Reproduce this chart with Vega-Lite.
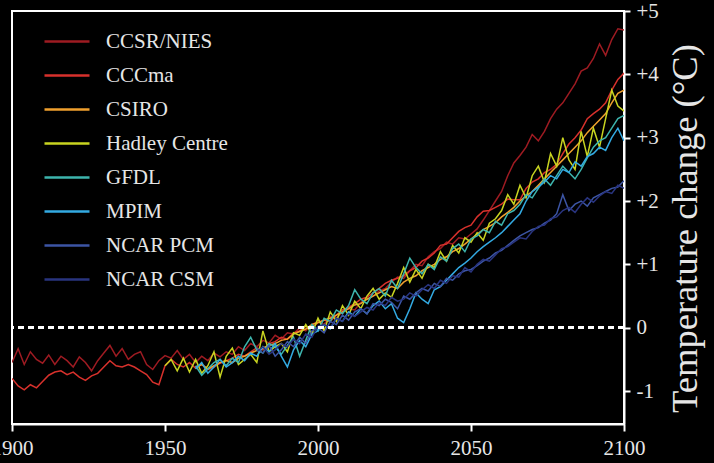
{
"$schema":"https://vega.github.io/schema/vega-lite/v6.json",
"width":612,"height":413,
"autosize":{"type":"none"},
"padding":{"left":12,"top":11,"right":90,"bottom":39},
"background":"#000000",
"config":{"view":{"stroke":"#ffffff","strokeWidth":2},"font":"Liberation Serif"},
"datasets":{"d":[
{"m":"CCSR/NIES","y":1900,"t":-0.55},{"m":"CCSR/NIES","y":1902,"t":-0.33},{"m":"CCSR/NIES","y":1904,"t":-0.58},{"m":"CCSR/NIES","y":1906,"t":-0.38},{"m":"CCSR/NIES","y":1908,"t":-0.5},{"m":"CCSR/NIES","y":1910,"t":-0.56},{"m":"CCSR/NIES","y":1912,"t":-0.43},{"m":"CCSR/NIES","y":1914,"t":-0.58},{"m":"CCSR/NIES","y":1916,"t":-0.45},{"m":"CCSR/NIES","y":1918,"t":-0.52},{"m":"CCSR/NIES","y":1920,"t":-0.62},{"m":"CCSR/NIES","y":1922,"t":-0.46},{"m":"CCSR/NIES","y":1924,"t":-0.55},{"m":"CCSR/NIES","y":1926,"t":-0.68},{"m":"CCSR/NIES","y":1928,"t":-0.52},{"m":"CCSR/NIES","y":1930,"t":-0.4},{"m":"CCSR/NIES","y":1932,"t":-0.28},{"m":"CCSR/NIES","y":1934,"t":-0.45},{"m":"CCSR/NIES","y":1936,"t":-0.33},{"m":"CCSR/NIES","y":1938,"t":-0.5},{"m":"CCSR/NIES","y":1940,"t":-0.42},{"m":"CCSR/NIES","y":1942,"t":-0.38},{"m":"CCSR/NIES","y":1944,"t":-0.58},{"m":"CCSR/NIES","y":1946,"t":-0.66},{"m":"CCSR/NIES","y":1948,"t":-0.52},{"m":"CCSR/NIES","y":1950,"t":-0.44},{"m":"CCSR/NIES","y":1952,"t":-0.48},{"m":"CCSR/NIES","y":1954,"t":-0.36},{"m":"CCSR/NIES","y":1956,"t":-0.5},{"m":"CCSR/NIES","y":1958,"t":-0.42},{"m":"CCSR/NIES","y":1960,"t":-0.55},{"m":"CCSR/NIES","y":1962,"t":-0.45},{"m":"CCSR/NIES","y":1964,"t":-0.52},{"m":"CCSR/NIES","y":1966,"t":-0.4},{"m":"CCSR/NIES","y":1968,"t":-0.46},{"m":"CCSR/NIES","y":1970,"t":-0.38},{"m":"CCSR/NIES","y":1972,"t":-0.42},{"m":"CCSR/NIES","y":1974,"t":-0.3},{"m":"CCSR/NIES","y":1976,"t":-0.36},{"m":"CCSR/NIES","y":1978,"t":-0.25},{"m":"CCSR/NIES","y":1980,"t":-0.3},{"m":"CCSR/NIES","y":1982,"t":-0.2},{"m":"CCSR/NIES","y":1984,"t":-0.24},{"m":"CCSR/NIES","y":1986,"t":-0.12},{"m":"CCSR/NIES","y":1988,"t":-0.18},{"m":"CCSR/NIES","y":1990,"t":-0.08},{"m":"CCSR/NIES","y":1992,"t":-0.1},{"m":"CCSR/NIES","y":1994,"t":0.0},{"m":"CCSR/NIES","y":1996,"t":-0.05},{"m":"CCSR/NIES","y":1998,"t":0.05},{"m":"CCSR/NIES","y":2000,"t":0.1},{"m":"CCSR/NIES","y":2002,"t":0.05},{"m":"CCSR/NIES","y":2004,"t":0.18},{"m":"CCSR/NIES","y":2006,"t":0.15},{"m":"CCSR/NIES","y":2008,"t":0.25},{"m":"CCSR/NIES","y":2010,"t":0.3},{"m":"CCSR/NIES","y":2012,"t":0.28},{"m":"CCSR/NIES","y":2014,"t":0.4},{"m":"CCSR/NIES","y":2016,"t":0.45},{"m":"CCSR/NIES","y":2018,"t":0.5},{"m":"CCSR/NIES","y":2020,"t":0.58},{"m":"CCSR/NIES","y":2022,"t":0.62},{"m":"CCSR/NIES","y":2024,"t":0.72},{"m":"CCSR/NIES","y":2026,"t":0.8},{"m":"CCSR/NIES","y":2028,"t":0.78},{"m":"CCSR/NIES","y":2030,"t":0.9},{"m":"CCSR/NIES","y":2032,"t":1.0},{"m":"CCSR/NIES","y":2034,"t":0.98},{"m":"CCSR/NIES","y":2036,"t":1.12},{"m":"CCSR/NIES","y":2038,"t":1.2},{"m":"CCSR/NIES","y":2040,"t":1.25},{"m":"CCSR/NIES","y":2042,"t":1.35},{"m":"CCSR/NIES","y":2044,"t":1.32},{"m":"CCSR/NIES","y":2046,"t":1.42},{"m":"CCSR/NIES","y":2048,"t":1.4},{"m":"CCSR/NIES","y":2050,"t":1.48},{"m":"CCSR/NIES","y":2052,"t":1.56},{"m":"CCSR/NIES","y":2054,"t":1.7},{"m":"CCSR/NIES","y":2056,"t":1.85},{"m":"CCSR/NIES","y":2058,"t":2.0},{"m":"CCSR/NIES","y":2060,"t":2.15},{"m":"CCSR/NIES","y":2062,"t":2.4},{"m":"CCSR/NIES","y":2064,"t":2.6},{"m":"CCSR/NIES","y":2066,"t":2.72},{"m":"CCSR/NIES","y":2068,"t":2.85},{"m":"CCSR/NIES","y":2070,"t":3.05},{"m":"CCSR/NIES","y":2072,"t":2.95},{"m":"CCSR/NIES","y":2074,"t":3.1},{"m":"CCSR/NIES","y":2076,"t":3.3},{"m":"CCSR/NIES","y":2078,"t":3.45},{"m":"CCSR/NIES","y":2080,"t":3.55},{"m":"CCSR/NIES","y":2082,"t":3.7},{"m":"CCSR/NIES","y":2084,"t":3.85},{"m":"CCSR/NIES","y":2086,"t":4.05},{"m":"CCSR/NIES","y":2088,"t":4.1},{"m":"CCSR/NIES","y":2090,"t":4.25},{"m":"CCSR/NIES","y":2092,"t":4.48},{"m":"CCSR/NIES","y":2094,"t":4.3},{"m":"CCSR/NIES","y":2096,"t":4.55},{"m":"CCSR/NIES","y":2098,"t":4.72},{"m":"CCSR/NIES","y":2100,"t":4.7},
{"m":"CCCma","y":1900,"t":-0.8},{"m":"CCCma","y":1902,"t":-0.92},{"m":"CCCma","y":1904,"t":-0.98},{"m":"CCCma","y":1906,"t":-0.9},{"m":"CCCma","y":1908,"t":-0.95},{"m":"CCCma","y":1910,"t":-0.85},{"m":"CCCma","y":1912,"t":-0.75},{"m":"CCCma","y":1914,"t":-0.7},{"m":"CCCma","y":1916,"t":-0.68},{"m":"CCCma","y":1918,"t":-0.74},{"m":"CCCma","y":1920,"t":-0.7},{"m":"CCCma","y":1922,"t":-0.78},{"m":"CCCma","y":1924,"t":-0.83},{"m":"CCCma","y":1926,"t":-0.76},{"m":"CCCma","y":1928,"t":-0.72},{"m":"CCCma","y":1930,"t":-0.62},{"m":"CCCma","y":1932,"t":-0.52},{"m":"CCCma","y":1934,"t":-0.6},{"m":"CCCma","y":1936,"t":-0.62},{"m":"CCCma","y":1938,"t":-0.58},{"m":"CCCma","y":1940,"t":-0.62},{"m":"CCCma","y":1942,"t":-0.68},{"m":"CCCma","y":1944,"t":-0.74},{"m":"CCCma","y":1946,"t":-0.86},{"m":"CCCma","y":1948,"t":-0.9},{"m":"CCCma","y":1950,"t":-0.6},{"m":"CCCma","y":1952,"t":-0.5},{"m":"CCCma","y":1954,"t":-0.58},{"m":"CCCma","y":1956,"t":-0.62},{"m":"CCCma","y":1958,"t":-0.55},{"m":"CCCma","y":1960,"t":-0.64},{"m":"CCCma","y":1962,"t":-0.58},{"m":"CCCma","y":1964,"t":-0.66},{"m":"CCCma","y":1966,"t":-0.62},{"m":"CCCma","y":1968,"t":-0.56},{"m":"CCCma","y":1970,"t":-0.52},{"m":"CCCma","y":1972,"t":-0.48},{"m":"CCCma","y":1974,"t":-0.42},{"m":"CCCma","y":1976,"t":-0.45},{"m":"CCCma","y":1978,"t":-0.38},{"m":"CCCma","y":1980,"t":-0.32},{"m":"CCCma","y":1982,"t":-0.35},{"m":"CCCma","y":1984,"t":-0.25},{"m":"CCCma","y":1986,"t":-0.22},{"m":"CCCma","y":1988,"t":-0.15},{"m":"CCCma","y":1990,"t":-0.18},{"m":"CCCma","y":1992,"t":-0.08},{"m":"CCCma","y":1994,"t":-0.05},{"m":"CCCma","y":1996,"t":0.02},{"m":"CCCma","y":1998,"t":0.0},{"m":"CCCma","y":2000,"t":0.08},{"m":"CCCma","y":2002,"t":0.12},{"m":"CCCma","y":2004,"t":0.1},{"m":"CCCma","y":2006,"t":0.2},{"m":"CCCma","y":2008,"t":0.28},{"m":"CCCma","y":2010,"t":0.32},{"m":"CCCma","y":2012,"t":0.38},{"m":"CCCma","y":2014,"t":0.45},{"m":"CCCma","y":2016,"t":0.48},{"m":"CCCma","y":2018,"t":0.55},{"m":"CCCma","y":2020,"t":0.62},{"m":"CCCma","y":2022,"t":0.7},{"m":"CCCma","y":2024,"t":0.75},{"m":"CCCma","y":2026,"t":0.78},{"m":"CCCma","y":2028,"t":0.82},{"m":"CCCma","y":2030,"t":0.9},{"m":"CCCma","y":2032,"t":0.95},{"m":"CCCma","y":2034,"t":1.05},{"m":"CCCma","y":2036,"t":1.1},{"m":"CCCma","y":2038,"t":1.18},{"m":"CCCma","y":2040,"t":1.3},{"m":"CCCma","y":2042,"t":1.32},{"m":"CCCma","y":2044,"t":1.42},{"m":"CCCma","y":2046,"t":1.52},{"m":"CCCma","y":2048,"t":1.58},{"m":"CCCma","y":2050,"t":1.62},{"m":"CCCma","y":2052,"t":1.75},{"m":"CCCma","y":2054,"t":1.84},{"m":"CCCma","y":2056,"t":1.85},{"m":"CCCma","y":2058,"t":1.9},{"m":"CCCma","y":2060,"t":1.95},{"m":"CCCma","y":2062,"t":2.03},{"m":"CCCma","y":2064,"t":2.02},{"m":"CCCma","y":2066,"t":2.02},{"m":"CCCma","y":2068,"t":2.2},{"m":"CCCma","y":2070,"t":2.3},{"m":"CCCma","y":2072,"t":2.35},{"m":"CCCma","y":2074,"t":2.45},{"m":"CCCma","y":2076,"t":2.5},{"m":"CCCma","y":2078,"t":2.58},{"m":"CCCma","y":2080,"t":2.75},{"m":"CCCma","y":2082,"t":2.9},{"m":"CCCma","y":2084,"t":3.0},{"m":"CCCma","y":2086,"t":3.12},{"m":"CCCma","y":2088,"t":3.3},{"m":"CCCma","y":2090,"t":3.38},{"m":"CCCma","y":2092,"t":3.45},{"m":"CCCma","y":2094,"t":3.55},{"m":"CCCma","y":2096,"t":3.75},{"m":"CCCma","y":2098,"t":3.92},{"m":"CCCma","y":2100,"t":4.02},
{"m":"CSIRO","y":1960,"t":-0.62},{"m":"CSIRO","y":1962,"t":-0.58},{"m":"CSIRO","y":1964,"t":-0.65},{"m":"CSIRO","y":1966,"t":-0.6},{"m":"CSIRO","y":1968,"t":-0.55},{"m":"CSIRO","y":1970,"t":-0.52},{"m":"CSIRO","y":1972,"t":-0.55},{"m":"CSIRO","y":1974,"t":-0.48},{"m":"CSIRO","y":1976,"t":-0.45},{"m":"CSIRO","y":1978,"t":-0.4},{"m":"CSIRO","y":1980,"t":-0.36},{"m":"CSIRO","y":1982,"t":-0.32},{"m":"CSIRO","y":1984,"t":-0.28},{"m":"CSIRO","y":1986,"t":-0.25},{"m":"CSIRO","y":1988,"t":-0.2},{"m":"CSIRO","y":1990,"t":-0.18},{"m":"CSIRO","y":1992,"t":-0.1},{"m":"CSIRO","y":1994,"t":-0.06},{"m":"CSIRO","y":1996,"t":-0.02},{"m":"CSIRO","y":1998,"t":0.05},{"m":"CSIRO","y":2000,"t":0.08},{"m":"CSIRO","y":2002,"t":0.12},{"m":"CSIRO","y":2004,"t":0.15},{"m":"CSIRO","y":2006,"t":0.2},{"m":"CSIRO","y":2008,"t":0.25},{"m":"CSIRO","y":2010,"t":0.3},{"m":"CSIRO","y":2012,"t":0.36},{"m":"CSIRO","y":2014,"t":0.38},{"m":"CSIRO","y":2016,"t":0.45},{"m":"CSIRO","y":2018,"t":0.5},{"m":"CSIRO","y":2020,"t":0.55},{"m":"CSIRO","y":2022,"t":0.6},{"m":"CSIRO","y":2024,"t":0.65},{"m":"CSIRO","y":2026,"t":0.62},{"m":"CSIRO","y":2028,"t":0.72},{"m":"CSIRO","y":2030,"t":0.78},{"m":"CSIRO","y":2032,"t":0.82},{"m":"CSIRO","y":2034,"t":0.9},{"m":"CSIRO","y":2036,"t":0.95},{"m":"CSIRO","y":2038,"t":1.0},{"m":"CSIRO","y":2040,"t":1.08},{"m":"CSIRO","y":2042,"t":1.12},{"m":"CSIRO","y":2044,"t":1.2},{"m":"CSIRO","y":2046,"t":1.25},{"m":"CSIRO","y":2048,"t":1.32},{"m":"CSIRO","y":2050,"t":1.4},{"m":"CSIRO","y":2052,"t":1.48},{"m":"CSIRO","y":2054,"t":1.55},{"m":"CSIRO","y":2056,"t":1.6},{"m":"CSIRO","y":2058,"t":1.66},{"m":"CSIRO","y":2060,"t":1.75},{"m":"CSIRO","y":2062,"t":1.82},{"m":"CSIRO","y":2064,"t":1.9},{"m":"CSIRO","y":2066,"t":2.0},{"m":"CSIRO","y":2068,"t":2.08},{"m":"CSIRO","y":2070,"t":2.15},{"m":"CSIRO","y":2072,"t":2.25},{"m":"CSIRO","y":2074,"t":2.35},{"m":"CSIRO","y":2076,"t":2.45},{"m":"CSIRO","y":2078,"t":2.55},{"m":"CSIRO","y":2080,"t":2.65},{"m":"CSIRO","y":2082,"t":2.75},{"m":"CSIRO","y":2084,"t":2.85},{"m":"CSIRO","y":2086,"t":2.95},{"m":"CSIRO","y":2088,"t":3.08},{"m":"CSIRO","y":2090,"t":3.18},{"m":"CSIRO","y":2092,"t":3.28},{"m":"CSIRO","y":2094,"t":3.38},{"m":"CSIRO","y":2096,"t":3.55},{"m":"CSIRO","y":2098,"t":3.7},{"m":"CSIRO","y":2100,"t":3.75},
{"m":"Hadley Centre","y":1950,"t":-0.6},{"m":"Hadley Centre","y":1952,"t":-0.5},{"m":"Hadley Centre","y":1954,"t":-0.68},{"m":"Hadley Centre","y":1956,"t":-0.48},{"m":"Hadley Centre","y":1958,"t":-0.7},{"m":"Hadley Centre","y":1960,"t":-0.5},{"m":"Hadley Centre","y":1962,"t":-0.72},{"m":"Hadley Centre","y":1964,"t":-0.6},{"m":"Hadley Centre","y":1966,"t":-0.38},{"m":"Hadley Centre","y":1968,"t":-0.78},{"m":"Hadley Centre","y":1970,"t":-0.45},{"m":"Hadley Centre","y":1972,"t":-0.32},{"m":"Hadley Centre","y":1974,"t":-0.58},{"m":"Hadley Centre","y":1976,"t":-0.5},{"m":"Hadley Centre","y":1978,"t":-0.42},{"m":"Hadley Centre","y":1980,"t":-0.55},{"m":"Hadley Centre","y":1982,"t":-0.05},{"m":"Hadley Centre","y":1984,"t":-0.38},{"m":"Hadley Centre","y":1986,"t":-0.3},{"m":"Hadley Centre","y":1988,"t":-0.25},{"m":"Hadley Centre","y":1990,"t":-0.38},{"m":"Hadley Centre","y":1992,"t":-0.08},{"m":"Hadley Centre","y":1994,"t":-0.12},{"m":"Hadley Centre","y":1996,"t":0.05},{"m":"Hadley Centre","y":1998,"t":-0.1},{"m":"Hadley Centre","y":2000,"t":0.15},{"m":"Hadley Centre","y":2002,"t":-0.05},{"m":"Hadley Centre","y":2004,"t":0.25},{"m":"Hadley Centre","y":2006,"t":0.1},{"m":"Hadley Centre","y":2008,"t":0.35},{"m":"Hadley Centre","y":2010,"t":0.2},{"m":"Hadley Centre","y":2012,"t":0.42},{"m":"Hadley Centre","y":2014,"t":0.3},{"m":"Hadley Centre","y":2016,"t":0.5},{"m":"Hadley Centre","y":2018,"t":0.62},{"m":"Hadley Centre","y":2020,"t":0.45},{"m":"Hadley Centre","y":2022,"t":0.55},{"m":"Hadley Centre","y":2024,"t":0.48},{"m":"Hadley Centre","y":2026,"t":0.7},{"m":"Hadley Centre","y":2028,"t":0.95},{"m":"Hadley Centre","y":2030,"t":0.72},{"m":"Hadley Centre","y":2032,"t":0.92},{"m":"Hadley Centre","y":2034,"t":0.78},{"m":"Hadley Centre","y":2036,"t":1.0},{"m":"Hadley Centre","y":2038,"t":0.95},{"m":"Hadley Centre","y":2040,"t":1.2},{"m":"Hadley Centre","y":2042,"t":1.05},{"m":"Hadley Centre","y":2044,"t":1.3},{"m":"Hadley Centre","y":2046,"t":1.18},{"m":"Hadley Centre","y":2048,"t":1.42},{"m":"Hadley Centre","y":2050,"t":1.35},{"m":"Hadley Centre","y":2052,"t":1.5},{"m":"Hadley Centre","y":2054,"t":1.38},{"m":"Hadley Centre","y":2056,"t":1.65},{"m":"Hadley Centre","y":2058,"t":1.72},{"m":"Hadley Centre","y":2060,"t":1.85},{"m":"Hadley Centre","y":2062,"t":2.1},{"m":"Hadley Centre","y":2064,"t":1.95},{"m":"Hadley Centre","y":2066,"t":2.25},{"m":"Hadley Centre","y":2068,"t":2.05},{"m":"Hadley Centre","y":2070,"t":2.4},{"m":"Hadley Centre","y":2072,"t":2.55},{"m":"Hadley Centre","y":2074,"t":2.3},{"m":"Hadley Centre","y":2076,"t":2.75},{"m":"Hadley Centre","y":2078,"t":2.55},{"m":"Hadley Centre","y":2080,"t":3.0},{"m":"Hadley Centre","y":2082,"t":2.65},{"m":"Hadley Centre","y":2084,"t":2.5},{"m":"Hadley Centre","y":2086,"t":3.1},{"m":"Hadley Centre","y":2088,"t":2.7},{"m":"Hadley Centre","y":2090,"t":3.15},{"m":"Hadley Centre","y":2092,"t":2.85},{"m":"Hadley Centre","y":2094,"t":3.3},{"m":"Hadley Centre","y":2096,"t":3.75},{"m":"Hadley Centre","y":2098,"t":3.5},{"m":"Hadley Centre","y":2100,"t":3.42},
{"m":"GFDL","y":1960,"t":-0.6},{"m":"GFDL","y":1962,"t":-0.75},{"m":"GFDL","y":1964,"t":-0.65},{"m":"GFDL","y":1966,"t":-0.55},{"m":"GFDL","y":1968,"t":-0.5},{"m":"GFDL","y":1970,"t":-0.6},{"m":"GFDL","y":1972,"t":-0.48},{"m":"GFDL","y":1974,"t":-0.55},{"m":"GFDL","y":1976,"t":-0.3},{"m":"GFDL","y":1978,"t":-0.15},{"m":"GFDL","y":1980,"t":-0.35},{"m":"GFDL","y":1982,"t":-0.4},{"m":"GFDL","y":1984,"t":-0.25},{"m":"GFDL","y":1986,"t":-0.3},{"m":"GFDL","y":1988,"t":-0.42},{"m":"GFDL","y":1990,"t":-0.28},{"m":"GFDL","y":1992,"t":-0.15},{"m":"GFDL","y":1994,"t":-0.45},{"m":"GFDL","y":1996,"t":-0.2},{"m":"GFDL","y":1998,"t":0.05},{"m":"GFDL","y":2000,"t":-0.05},{"m":"GFDL","y":2002,"t":0.15},{"m":"GFDL","y":2004,"t":0.1},{"m":"GFDL","y":2006,"t":0.28},{"m":"GFDL","y":2008,"t":0.22},{"m":"GFDL","y":2010,"t":0.35},{"m":"GFDL","y":2012,"t":0.6},{"m":"GFDL","y":2014,"t":0.45},{"m":"GFDL","y":2016,"t":0.38},{"m":"GFDL","y":2018,"t":0.55},{"m":"GFDL","y":2020,"t":0.62},{"m":"GFDL","y":2022,"t":0.5},{"m":"GFDL","y":2024,"t":0.75},{"m":"GFDL","y":2026,"t":0.62},{"m":"GFDL","y":2028,"t":0.85},{"m":"GFDL","y":2030,"t":1.1},{"m":"GFDL","y":2032,"t":0.95},{"m":"GFDL","y":2034,"t":0.85},{"m":"GFDL","y":2036,"t":1.0},{"m":"GFDL","y":2038,"t":0.92},{"m":"GFDL","y":2040,"t":1.12},{"m":"GFDL","y":2042,"t":1.05},{"m":"GFDL","y":2044,"t":1.25},{"m":"GFDL","y":2046,"t":1.32},{"m":"GFDL","y":2048,"t":1.2},{"m":"GFDL","y":2050,"t":1.4},{"m":"GFDL","y":2052,"t":1.45},{"m":"GFDL","y":2054,"t":1.55},{"m":"GFDL","y":2056,"t":1.5},{"m":"GFDL","y":2058,"t":1.68},{"m":"GFDL","y":2060,"t":1.62},{"m":"GFDL","y":2062,"t":1.8},{"m":"GFDL","y":2064,"t":1.85},{"m":"GFDL","y":2066,"t":1.95},{"m":"GFDL","y":2068,"t":2.1},{"m":"GFDL","y":2070,"t":2.05},{"m":"GFDL","y":2072,"t":2.2},{"m":"GFDL","y":2074,"t":2.35},{"m":"GFDL","y":2076,"t":2.25},{"m":"GFDL","y":2078,"t":2.4},{"m":"GFDL","y":2080,"t":2.55},{"m":"GFDL","y":2082,"t":2.45},{"m":"GFDL","y":2084,"t":2.35},{"m":"GFDL","y":2086,"t":2.5},{"m":"GFDL","y":2088,"t":2.68},{"m":"GFDL","y":2090,"t":2.85},{"m":"GFDL","y":2092,"t":2.95},{"m":"GFDL","y":2094,"t":3.0},{"m":"GFDL","y":2096,"t":3.15},{"m":"GFDL","y":2098,"t":3.3},{"m":"GFDL","y":2100,"t":3.35},
{"m":"MPIM","y":1960,"t":-0.65},{"m":"MPIM","y":1962,"t":-0.55},{"m":"MPIM","y":1964,"t":-0.72},{"m":"MPIM","y":1966,"t":-0.62},{"m":"MPIM","y":1968,"t":-0.5},{"m":"MPIM","y":1970,"t":-0.62},{"m":"MPIM","y":1972,"t":-0.55},{"m":"MPIM","y":1974,"t":-0.45},{"m":"MPIM","y":1976,"t":-0.52},{"m":"MPIM","y":1978,"t":-0.4},{"m":"MPIM","y":1980,"t":-0.45},{"m":"MPIM","y":1982,"t":-0.3},{"m":"MPIM","y":1984,"t":-0.38},{"m":"MPIM","y":1986,"t":-0.25},{"m":"MPIM","y":1988,"t":-0.45},{"m":"MPIM","y":1990,"t":-0.62},{"m":"MPIM","y":1992,"t":-0.35},{"m":"MPIM","y":1994,"t":-0.2},{"m":"MPIM","y":1996,"t":-0.3},{"m":"MPIM","y":1998,"t":-0.1},{"m":"MPIM","y":2000,"t":-0.05},{"m":"MPIM","y":2002,"t":0.05},{"m":"MPIM","y":2004,"t":-0.02},{"m":"MPIM","y":2006,"t":0.15},{"m":"MPIM","y":2008,"t":0.1},{"m":"MPIM","y":2010,"t":0.25},{"m":"MPIM","y":2012,"t":0.18},{"m":"MPIM","y":2014,"t":0.3},{"m":"MPIM","y":2016,"t":0.22},{"m":"MPIM","y":2018,"t":0.35},{"m":"MPIM","y":2020,"t":0.42},{"m":"MPIM","y":2022,"t":0.3},{"m":"MPIM","y":2024,"t":0.38},{"m":"MPIM","y":2026,"t":0.15},{"m":"MPIM","y":2028,"t":0.08},{"m":"MPIM","y":2030,"t":0.3},{"m":"MPIM","y":2032,"t":0.55},{"m":"MPIM","y":2034,"t":0.45},{"m":"MPIM","y":2036,"t":0.38},{"m":"MPIM","y":2038,"t":0.6},{"m":"MPIM","y":2040,"t":0.65},{"m":"MPIM","y":2042,"t":0.75},{"m":"MPIM","y":2044,"t":0.85},{"m":"MPIM","y":2046,"t":0.95},{"m":"MPIM","y":2048,"t":1.02},{"m":"MPIM","y":2050,"t":1.1},{"m":"MPIM","y":2052,"t":1.2},{"m":"MPIM","y":2054,"t":1.28},{"m":"MPIM","y":2056,"t":1.35},{"m":"MPIM","y":2058,"t":1.42},{"m":"MPIM","y":2060,"t":1.5},{"m":"MPIM","y":2062,"t":1.6},{"m":"MPIM","y":2064,"t":1.7},{"m":"MPIM","y":2066,"t":1.8},{"m":"MPIM","y":2068,"t":2.0},{"m":"MPIM","y":2070,"t":2.15},{"m":"MPIM","y":2072,"t":2.22},{"m":"MPIM","y":2074,"t":2.3},{"m":"MPIM","y":2076,"t":2.4},{"m":"MPIM","y":2078,"t":2.35},{"m":"MPIM","y":2080,"t":2.5},{"m":"MPIM","y":2082,"t":2.45},{"m":"MPIM","y":2084,"t":2.62},{"m":"MPIM","y":2086,"t":2.55},{"m":"MPIM","y":2088,"t":2.7},{"m":"MPIM","y":2090,"t":2.75},{"m":"MPIM","y":2092,"t":2.85},{"m":"MPIM","y":2094,"t":2.8},{"m":"MPIM","y":2096,"t":3.0},{"m":"MPIM","y":2098,"t":3.15},{"m":"MPIM","y":2100,"t":2.95},
{"m":"NCAR PCM","y":1980,"t":-0.32},{"m":"NCAR PCM","y":1982,"t":-0.4},{"m":"NCAR PCM","y":1984,"t":-0.28},{"m":"NCAR PCM","y":1986,"t":-0.45},{"m":"NCAR PCM","y":1988,"t":-0.35},{"m":"NCAR PCM","y":1990,"t":-0.22},{"m":"NCAR PCM","y":1992,"t":-0.3},{"m":"NCAR PCM","y":1994,"t":-0.15},{"m":"NCAR PCM","y":1996,"t":-0.25},{"m":"NCAR PCM","y":1998,"t":-0.05},{"m":"NCAR PCM","y":2000,"t":0.0},{"m":"NCAR PCM","y":2002,"t":-0.08},{"m":"NCAR PCM","y":2004,"t":0.1},{"m":"NCAR PCM","y":2006,"t":0.05},{"m":"NCAR PCM","y":2008,"t":0.2},{"m":"NCAR PCM","y":2010,"t":0.12},{"m":"NCAR PCM","y":2012,"t":0.25},{"m":"NCAR PCM","y":2014,"t":0.3},{"m":"NCAR PCM","y":2016,"t":0.22},{"m":"NCAR PCM","y":2018,"t":0.38},{"m":"NCAR PCM","y":2020,"t":0.35},{"m":"NCAR PCM","y":2022,"t":0.45},{"m":"NCAR PCM","y":2024,"t":0.4},{"m":"NCAR PCM","y":2026,"t":0.3},{"m":"NCAR PCM","y":2028,"t":0.5},{"m":"NCAR PCM","y":2030,"t":0.45},{"m":"NCAR PCM","y":2032,"t":0.55},{"m":"NCAR PCM","y":2034,"t":0.62},{"m":"NCAR PCM","y":2036,"t":0.58},{"m":"NCAR PCM","y":2038,"t":0.7},{"m":"NCAR PCM","y":2040,"t":0.65},{"m":"NCAR PCM","y":2042,"t":0.78},{"m":"NCAR PCM","y":2044,"t":0.75},{"m":"NCAR PCM","y":2046,"t":0.85},{"m":"NCAR PCM","y":2048,"t":0.9},{"m":"NCAR PCM","y":2050,"t":0.92},{"m":"NCAR PCM","y":2052,"t":0.98},{"m":"NCAR PCM","y":2054,"t":1.05},{"m":"NCAR PCM","y":2056,"t":1.1},{"m":"NCAR PCM","y":2058,"t":1.18},{"m":"NCAR PCM","y":2060,"t":1.22},{"m":"NCAR PCM","y":2062,"t":1.3},{"m":"NCAR PCM","y":2064,"t":1.38},{"m":"NCAR PCM","y":2066,"t":1.45},{"m":"NCAR PCM","y":2068,"t":1.5},{"m":"NCAR PCM","y":2070,"t":1.55},{"m":"NCAR PCM","y":2072,"t":1.58},{"m":"NCAR PCM","y":2074,"t":1.65},{"m":"NCAR PCM","y":2076,"t":1.7},{"m":"NCAR PCM","y":2078,"t":1.8},{"m":"NCAR PCM","y":2080,"t":2.1},{"m":"NCAR PCM","y":2082,"t":1.85},{"m":"NCAR PCM","y":2084,"t":1.95},{"m":"NCAR PCM","y":2086,"t":2.0},{"m":"NCAR PCM","y":2088,"t":1.92},{"m":"NCAR PCM","y":2090,"t":2.05},{"m":"NCAR PCM","y":2092,"t":2.1},{"m":"NCAR PCM","y":2094,"t":2.15},{"m":"NCAR PCM","y":2096,"t":2.2},{"m":"NCAR PCM","y":2098,"t":2.22},{"m":"NCAR PCM","y":2100,"t":2.32},
{"m":"NCAR CSM","y":1980,"t":-0.38},{"m":"NCAR CSM","y":1982,"t":-0.3},{"m":"NCAR CSM","y":1984,"t":-0.42},{"m":"NCAR CSM","y":1986,"t":-0.35},{"m":"NCAR CSM","y":1988,"t":-0.25},{"m":"NCAR CSM","y":1990,"t":-0.3},{"m":"NCAR CSM","y":1992,"t":-0.18},{"m":"NCAR CSM","y":1994,"t":-0.25},{"m":"NCAR CSM","y":1996,"t":-0.1},{"m":"NCAR CSM","y":1998,"t":-0.15},{"m":"NCAR CSM","y":2000,"t":0.02},{"m":"NCAR CSM","y":2002,"t":0.05},{"m":"NCAR CSM","y":2004,"t":0.0},{"m":"NCAR CSM","y":2006,"t":0.15},{"m":"NCAR CSM","y":2008,"t":0.1},{"m":"NCAR CSM","y":2010,"t":0.22},{"m":"NCAR CSM","y":2012,"t":0.18},{"m":"NCAR CSM","y":2014,"t":0.25},{"m":"NCAR CSM","y":2016,"t":0.32},{"m":"NCAR CSM","y":2018,"t":0.28},{"m":"NCAR CSM","y":2020,"t":0.4},{"m":"NCAR CSM","y":2022,"t":0.35},{"m":"NCAR CSM","y":2024,"t":0.48},{"m":"NCAR CSM","y":2026,"t":0.42},{"m":"NCAR CSM","y":2028,"t":0.45},{"m":"NCAR CSM","y":2030,"t":0.55},{"m":"NCAR CSM","y":2032,"t":0.5},{"m":"NCAR CSM","y":2034,"t":0.6},{"m":"NCAR CSM","y":2036,"t":0.68},{"m":"NCAR CSM","y":2038,"t":0.62},{"m":"NCAR CSM","y":2040,"t":0.75},{"m":"NCAR CSM","y":2042,"t":0.7},{"m":"NCAR CSM","y":2044,"t":0.82},{"m":"NCAR CSM","y":2046,"t":0.8},{"m":"NCAR CSM","y":2048,"t":0.95},{"m":"NCAR CSM","y":2050,"t":0.88},{"m":"NCAR CSM","y":2052,"t":1.0},{"m":"NCAR CSM","y":2054,"t":1.08},{"m":"NCAR CSM","y":2056,"t":1.05},{"m":"NCAR CSM","y":2058,"t":1.15},{"m":"NCAR CSM","y":2060,"t":1.25},{"m":"NCAR CSM","y":2062,"t":1.28},{"m":"NCAR CSM","y":2064,"t":1.35},{"m":"NCAR CSM","y":2066,"t":1.42},{"m":"NCAR CSM","y":2068,"t":1.4},{"m":"NCAR CSM","y":2070,"t":1.52},{"m":"NCAR CSM","y":2072,"t":1.6},{"m":"NCAR CSM","y":2074,"t":1.62},{"m":"NCAR CSM","y":2076,"t":1.72},{"m":"NCAR CSM","y":2078,"t":1.75},{"m":"NCAR CSM","y":2080,"t":1.85},{"m":"NCAR CSM","y":2082,"t":1.9},{"m":"NCAR CSM","y":2084,"t":1.82},{"m":"NCAR CSM","y":2086,"t":1.95},{"m":"NCAR CSM","y":2088,"t":2.05},{"m":"NCAR CSM","y":2090,"t":1.98},{"m":"NCAR CSM","y":2092,"t":2.08},{"m":"NCAR CSM","y":2094,"t":2.15},{"m":"NCAR CSM","y":2096,"t":2.12},{"m":"NCAR CSM","y":2098,"t":2.25},{"m":"NCAR CSM","y":2100,"t":2.2}
]},
"data":{"name":"d"},
"layer":[
{"mark":{"type":"line","strokeWidth":1.5,"clip":true},
 "encoding":{
  "x":{"field":"y","type":"quantitative","scale":{"domain":[1900,2100],"nice":false,"zero":false},
   "axis":{"orient":"bottom","values":[1900,1950,2000,2050,2100],"format":"d","title":null,"grid":false,"domainColor":"#ffffff","domainWidth":2,"tickColor":"#ffffff","tickWidth":2,"tickSize":7,"labelColor":"#e6e6e6","labelFontSize":21,"labelPadding":6,"labelFlush":false}},
  "y":{"field":"t","type":"quantitative","scale":{"domain":[-1.52,5],"nice":false,"zero":false},
   "axis":{"orient":"right","values":[-1,0,1,2,3,4,5],"labelExpr":"datum.value > 0 ? '+' + datum.value : '' + datum.value","grid":false,"domainColor":"#ffffff","domainWidth":2,"tickColor":"#ffffff","tickWidth":2,"tickSize":6,"labelPadding":6,"labelFontSize":21,"labelColor":"#e6e6e6",
    "title":"Temperature change (°C)","titleFontSize":36.5,"titleFontWeight":"normal","titleColor":"#e6e6e6","titleAngle":270,"titleX":72,"titleY":217,"titleAlign":"center","titleBaseline":"alphabetic"}},
  "color":{"field":"m","type":"nominal",
   "scale":{"domain":["CCSR/NIES","CCCma","CSIRO","Hadley Centre","GFDL","MPIM","NCAR PCM","NCAR CSM"],"range":["#9e1b22","#d7312c","#f0a02e","#c8d420","#3db4ad","#33aae2","#3c55a5","#29347f"]},
   "legend":{"orient":"none","legendX":31,"legendY":6.5,"title":null,"symbolType":"stroke","symbolSize":2025,"symbolStrokeWidth":2.5,"labelFontSize":21,"labelColor":"#e6e6e6","labelOffset":15,"rowPadding":-13.3,"padding":0}}
 }},
{"mark":{"type":"rule","color":"#ffffff","strokeWidth":2.5,"strokeDash":[6,4]},"encoding":{"y":{"datum":0}}}
]
}
